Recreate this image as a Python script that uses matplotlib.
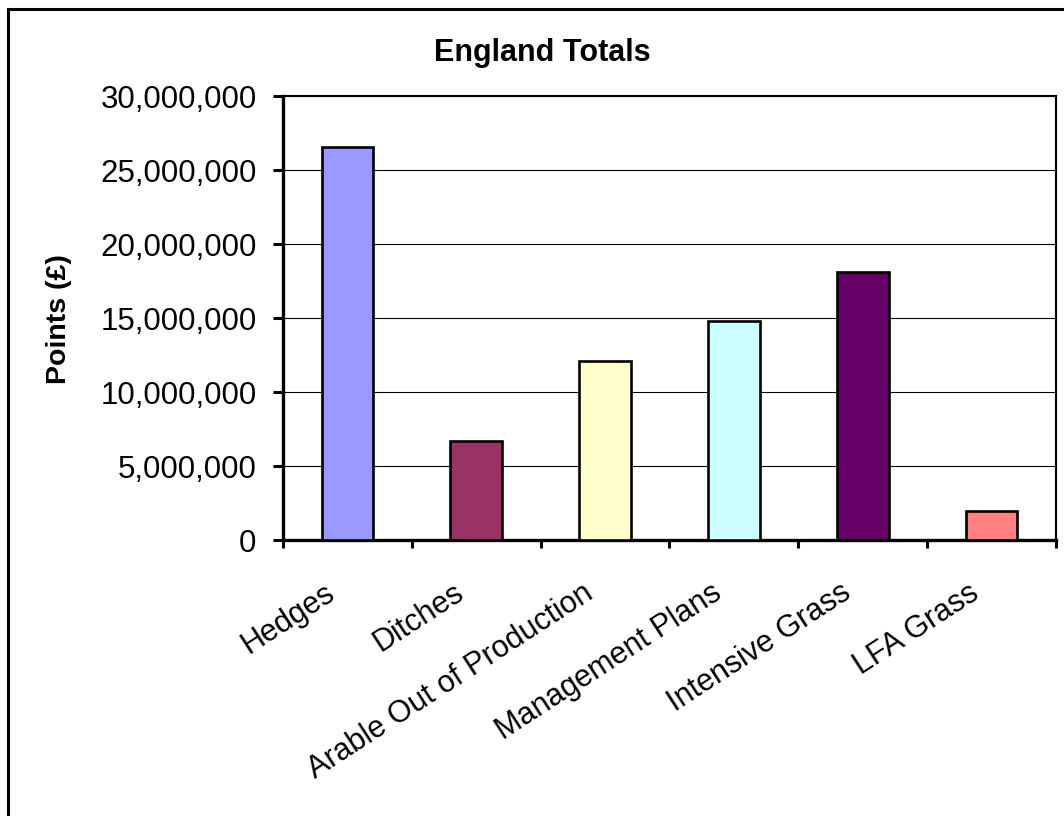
import matplotlib
matplotlib.use("Agg")
import matplotlib.pyplot as plt
from matplotlib.patches import Rectangle
from matplotlib.ticker import FuncFormatter
from matplotlib.transforms import ScaledTranslation

plt.rcParams['font.family'] = ['Liberation Sans', 'DejaVu Sans']

categories = ["Hedges", "Ditches", "Arable Out of Production", "Management Plans",
              "Intensive Grass", "LFA Grass"]
values = [26570000, 6710000, 12140000, 14800000, 18150000, 2000000]
colors = ["#9999FF", "#993366", "#FFFFCC", "#CCFFFF", "#660066", "#FF8080"]
yticks = [0, 5000000, 10000000, 15000000, 20000000, 25000000, 30000000]

W, H = 1064, 816
fig = plt.figure(figsize=(W / 100, H / 100), dpi=100)
ax = fig.add_axes([283 / W, 1 - 540.3 / H, 773 / W, 444 / H])

x = list(range(len(categories)))
ax.bar(x, values, width=0.4, color=colors, edgecolor="black", linewidth=1.9, zorder=3)

ax.set_xlim(-0.5, len(categories) - 0.5)
ax.set_ylim(0, 30000000)
ax.set_yticks(yticks)
ax.yaxis.set_major_formatter(FuncFormatter(lambda v, p: "{:,}".format(int(v))))
ax.grid(axis="y", color="black", linewidth=0.8, zorder=0)

# category boundaries get tick marks, centres get the labels
ax.set_xticks([i - 0.5 for i in range(len(categories) + 1)])
ax.set_xticklabels([])
ax.set_xticks(x, minor=True)
ax.set_xticklabels(categories, minor=True, rotation=33, ha="right",
                   rotation_mode="anchor", fontsize=22)
ax.tick_params(axis="x", which="major", direction="out", length=6, width=2.2)
ax.tick_params(axis="x", which="minor", length=0, pad=27)
ax.tick_params(axis="y", direction="out", length=7, width=2.2, labelsize=22.5, pad=12)

shift = ScaledTranslation(-23 / 100, 0, fig.dpi_scale_trans)
for lab in ax.get_xticklabels(minor=True):
    lab.set_transform(lab.get_transform() + shift)

for s in ["left", "bottom"]:
    ax.spines[s].set_linewidth(2.4)
for s in ["top", "right"]:
    ax.spines[s].set_linewidth(1.5)

fig.text(542 / W, 1 - 53 / H, "England Totals", ha="center", va="center",
         fontsize=22, fontweight="bold")
fig.text(59 / W, 1 - 319 / H, "Points (£)", ha="center", va="center",
         rotation=90, fontsize=20.5, fontweight="bold")

fig.add_artist(Rectangle((8 / W, -0.1), 1.2, 1.1 - 9 / H, transform=fig.transFigure,
                         fill=False, edgecolor="black", linewidth=2.2, clip_on=False))

fig.savefig("out.png", dpi=100)
